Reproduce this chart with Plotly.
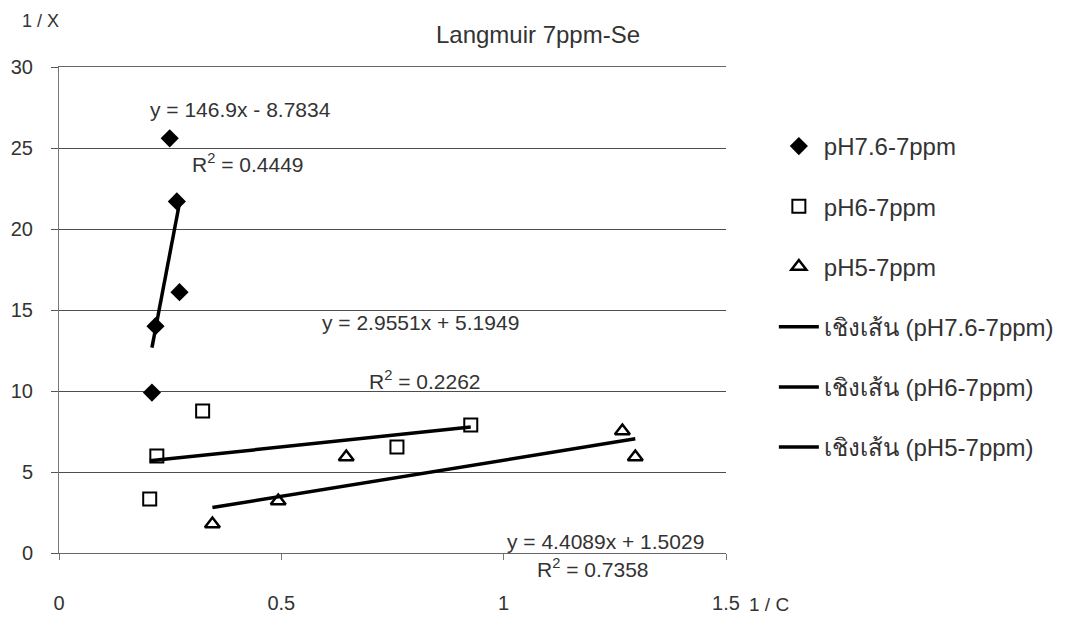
import numpy as np
import plotly.graph_objects as go

# ---- data ----
x_ph76 = [0.249, 0.265, 0.271, 0.217, 0.209]
y_ph76 = [25.6, 21.7, 16.1, 14.0, 9.9]

x_ph6 = [0.204, 0.220, 0.323, 0.760, 0.926]
y_ph6 = [3.33, 5.99, 8.77, 6.54, 7.90]

x_ph5 = [0.345, 0.493, 0.646, 1.267, 1.296]
y_ph5 = [1.79, 3.21, 5.93, 7.53, 5.93]

names = ["pH7.6-7ppm", "pH6-7ppm", "pH5-7ppm"]
trend_names = ["เชิงเส้น (pH7.6-7ppm)", "เชิงเส้น (pH6-7ppm)", "เชิงเส้น (pH5-7ppm)"]
equations = ["y = 146.9x - 8.7834", "y = 2.9551x + 5.1949", "y = 4.4089x + 1.5029"]
r2_texts = ["R<sup>2</sup> = 0.4449", "R<sup>2</sup> = 0.2262", "R<sup>2</sup> = 0.7358"]
x_ticks = [0, 0.5, 1, 1.5]
x_tick_labels = ["0", "0.5", "1", "1.5"]
y_ticks = [0, 5, 10, 15, 20, 25, 30]

FONT = "Liberation Sans, Arial, sans-serif"
TXT = "#333333"

# page body has an 8px margin; figure is sized/placed to compensate
W, H = 1063, 624
PL, PR, PT, PB = 51, 343, 59, 79  # plot area margins (figure coords)
PW = W - PL - PR
PH = H - PT - PB
Y0, Y1 = 0, 30

def px(page_x):   # page pixel x -> paper x
    return (page_x - 8 - PL) / PW

def py(page_y):   # page pixel y -> paper y
    return 1 - (page_y - 8 - PT) / PH

fig = go.Figure()

series = [(x_ph76, y_ph76), (x_ph6, y_ph6), (x_ph5, y_ph5)]
markers = [
    dict(symbol="diamond", size=14, color="black", line=dict(width=0)),
    dict(symbol="square-open", size=13, color="black", line=dict(width=2)),
    dict(symbol="triangle-up-open", size=13, color="black", line=dict(width=2.5)),
]

for i, ((xs, ys), m) in enumerate(zip(series, markers)):
    fig.add_trace(go.Scatter(x=xs, y=ys, mode="markers", name=names[i],
                             marker=m, legendgroup=f"g{i}"))

for i, (xs, ys) in enumerate(series):
    a, b = np.polyfit(xs, ys, 1)
    xe = [min(xs), max(xs)]
    ye = [a * v + b for v in xe]
    fig.add_trace(go.Scatter(x=xe, y=ye, mode="lines", name=trend_names[i],
                             line=dict(color="black", width=3.5), legendgroup=f"t{i}"))

# equation annotations (data x; y converted to paper so labels below the axis still show)
eq_pos = [(0.408, 27.35), (0.812, 14.2), (1.229, 0.74)]
r2_pos = [(0.424, 24.07), (0.823, 10.68), (1.202, -0.93)]
for i in range(3):
    for (xv, yv), txt in ((eq_pos[i], equations[i]), (r2_pos[i], r2_texts[i])):
        fig.add_annotation(x=xv, y=(yv - Y0) / (Y1 - Y0), text=txt, showarrow=False,
                           xref="x", yref="paper", xanchor="center", yanchor="middle",
                           font=dict(size=21, color=TXT, family=FONT))

# axis titles
fig.add_annotation(x=px(40), y=py(21), xref="paper", yref="paper", text="1 / X",
                   showarrow=False, xanchor="center", yanchor="middle",
                   font=dict(size=18, color=TXT, family=FONT))
fig.add_annotation(x=px(771), y=py(604), xref="paper", yref="paper", text="1 / C",
                   showarrow=False, xanchor="center", yanchor="middle",
                   font=dict(size=19, color=TXT, family=FONT))

fig.update_layout(
    width=W, height=H,
    margin=dict(l=PL, r=PR, t=PT, b=PB),
    paper_bgcolor="white", plot_bgcolor="white",
    font=dict(family=FONT, size=20, color=TXT),
    showlegend=True,
    legend=dict(x=px(776), y=py(124), xanchor="left", yanchor="top",
                font=dict(size=24, color=TXT, family=FONT),
                traceorder="grouped", tracegroupgap=26,
                bgcolor="rgba(0,0,0,0)", itemwidth=40),
    title=dict(text="Langmuir 7ppm-Se", x=(538 - 8) / W, xanchor="center",
               y=1 - (35 - 8) / H, yanchor="middle",
               font=dict(size=24, color=TXT, family=FONT)),
    xaxis=dict(range=[0, 1.5], tickvals=x_ticks, ticktext=x_tick_labels, showgrid=False,
               zeroline=False, showline=True, mirror=True, linecolor="#666", linewidth=1,
               ticks="outside", ticklen=6, tickcolor="#777", automargin=False,
               ticklabelstandoff=26, tickfont=dict(size=20, color=TXT)),
    yaxis=dict(range=[Y0, Y1], tickvals=y_ticks, showgrid=True, gridcolor="#4d4d4d", gridwidth=1,
               zeroline=False, showline=True, linecolor="#777", linewidth=1, automargin=False,
               ticks="outside", ticklen=7, tickcolor="#555", ticklabelstandoff=14,
               tickfont=dict(size=20, color=TXT)),
)

fig.write_html("out.html")
